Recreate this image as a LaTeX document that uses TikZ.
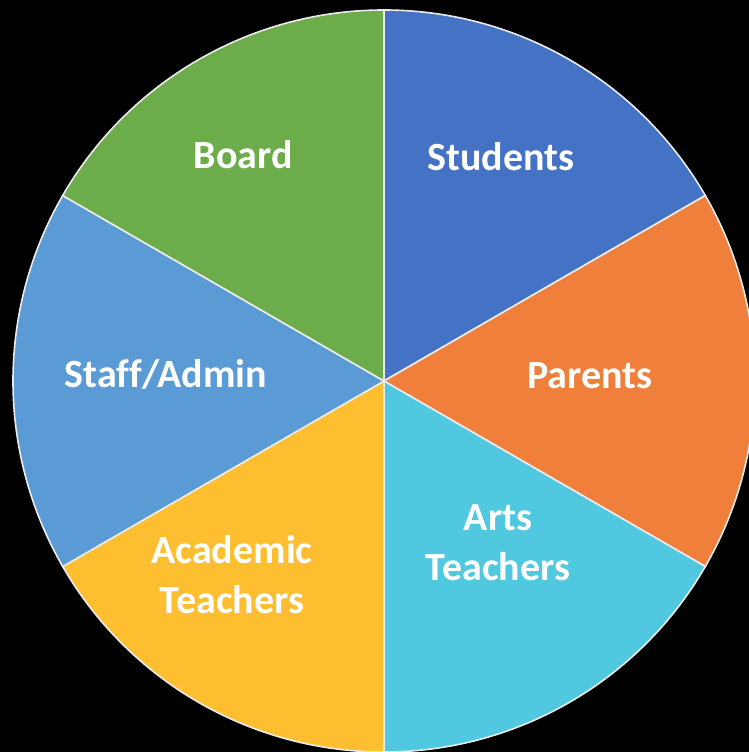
\documentclass[tikz,border=0pt]{standalone}
\usepackage{fontspec}
\setmainfont{Carlito}[Ligatures=NoCommon]
\definecolor{cStud}{HTML}{4472C4}
\definecolor{cPar}{HTML}{F07F3C}
\definecolor{cArts}{HTML}{50C8E0}
\definecolor{cAcad}{HTML}{FDBE30}
\definecolor{cStaff}{HTML}{5B9BD5}
\definecolor{cBoard}{HTML}{6DAC4A}
\begin{document}
\begin{tikzpicture}[x=1pt,y=-1pt,
  slice/.style={draw=white!92!black,line width=1.6pt,line join=round},
  lbl/.style={text=white,font=\fontsize{40}{50}\selectfont\bfseries,align=center}]
\fill[black] (0,0) rectangle (749,752);
\useasboundingbox (0,0) rectangle (749,752);
\coordinate (c) at (384,381);
\def\R{371}
\begin{scope}
\clip (0,0) rectangle (749,752);
\filldraw[slice,fill=cStud]  (c) -- ++(-90:\R) arc[start angle=-90,end angle=-30,radius=\R] -- cycle;
\filldraw[slice,fill=cPar]   (c) -- ++(-30:\R) arc[start angle=-30,end angle=30,radius=\R] -- cycle;
\filldraw[slice,fill=cArts]  (c) -- ++(30:\R) arc[start angle=30,end angle=90,radius=\R] -- cycle;
\filldraw[slice,fill=cAcad]  (c) -- ++(90:\R) arc[start angle=90,end angle=150,radius=\R] -- cycle;
\filldraw[slice,fill=cStaff] (c) -- ++(150:\R) arc[start angle=150,end angle=210,radius=\R] -- cycle;
\filldraw[slice,fill=cBoard] (c) -- ++(210:\R) arc[start angle=210,end angle=270,radius=\R] -- cycle;
\end{scope}
\node[lbl] (board) at (243,155) {Board};
\node[lbl] (stud) at (501,157) {Students};
\node[lbl] (par) at (590,376) {Parents};
\node[lbl] (arts) at (498,543) {Arts\\Teachers};
\node[lbl] (acad) at (232,575) {Academic\\Teachers};
\node[lbl] (staff) at (166,374) {Staff/Admin};
\end{tikzpicture}
\end{document}
